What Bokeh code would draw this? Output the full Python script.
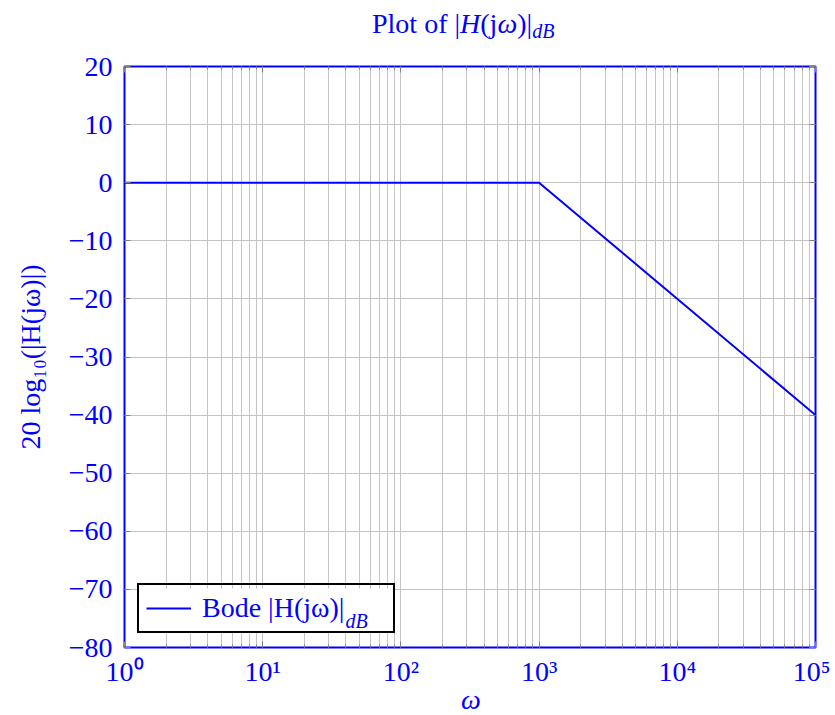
from bokeh.plotting import figure
from bokeh.models import (Range1d, FixedTicker, Label, Legend, LegendItem,
                          Div, LogAxis, LinearAxis, BoxAnnotation)
from bokeh.layouts import column
from bokeh.embed import file_html
from bokeh.resources import INLINE

# ---- data ----
omega = [1, 1000, 100000]
mag_db = [0, 0, -40]
legend_label = "Bode |H(jω)|"
x_ticks = [1, 10, 100, 1000, 10000, 100000]
x_tick_labels = ["10⁰", "10¹", "10²", "10³", "10⁴", "10⁵"]
x_minor = [m * d for d in [1, 10, 100, 1000, 10000] for m in range(2, 10)]
y_ticks = [-80, -70, -60, -50, -40, -30, -20, -10, 0, 10, 20]
y_tick_labels = ["−80", "−70", "−60", "−50", "−40", "−30", "−20", "−10", "0", "10", "20"]

FONT = "Liberation Serif"
BLUE = "#0000ff"
GRID = "#c4c4c4"
TICK = "#808080"
FS = "28px"

title_div = Div(
    text=("<div style=\"font-family:'Liberation Serif';font-size:28px;line-height:28px;"
          "color:#0000ff;white-space:nowrap;padding-top:10px;padding-left:372px\">"
          "Plot of |<i>H</i>(j<i>ω</i>)|"
          "<span style=\"font-size:20px;line-height:20px;font-style:italic;"
          "vertical-align:-5px\">dB</span></div>"),
    width=830, height=50, margin=0)

xlabel_div = Div(
    text=("<div style=\"font-family:'Liberation Serif';font-size:28px;line-height:22px;"
          "color:#0000ff;white-space:nowrap;padding-left:461px;font-style:italic\">ω</div>"),
    width=830, height=24, margin=0)

p = figure(width=830, height=639, x_axis_type="log",
           x_range=Range1d(1, 100000), y_range=Range1d(-80, 20),
           output_backend="svg", toolbar_location=None, title=None,
           min_border_left=124, min_border_right=15,
           min_border_top=16, min_border_bottom=42, margin=0)

p.outline_line_color = BLUE
p.outline_line_width = 2
p.outline_line_alpha = 1.0

bottom_axis = p.below[0]
left_axis = p.left[0]

xticker = FixedTicker(ticks=x_ticks, minor_ticks=x_minor)
yticker = FixedTicker(ticks=y_ticks)
bottom_axis.ticker = xticker
bottom_axis.major_label_overrides = {t: l for t, l in zip(x_ticks, x_tick_labels)}
left_axis.ticker = yticker
left_axis.major_label_overrides = {t: l for t, l in zip(y_ticks, y_tick_labels)}

# tick marks only on the top and right edges
top_axis = LogAxis(ticker=xticker, major_label_standoff=0,
                   major_label_overrides={t: "" for t in x_ticks})
right_axis = LinearAxis(ticker=yticker, major_label_standoff=0,
                        major_label_overrides={t: "" for t in y_ticks})
p.add_layout(top_axis, "above")
p.add_layout(right_axis, "right")

for ax in (bottom_axis, left_axis, top_axis, right_axis):
    ax.axis_line_color = None
    ax.major_tick_in = 6
    ax.major_tick_out = 0
    ax.minor_tick_in = 3
    ax.minor_tick_out = 0
    ax.major_tick_line_color = TICK
    ax.minor_tick_line_color = TICK
    ax.major_label_text_font = FONT
    ax.major_label_text_color = BLUE
    ax.major_label_text_font_size = FS
    ax.axis_label_text_font = FONT
    ax.axis_label_text_font_size = FS
    ax.axis_label_text_color = BLUE
left_axis.minor_tick_line_color = None
right_axis.minor_tick_line_color = None
bottom_axis.major_label_standoff = 8
left_axis.major_label_standoff = 12
left_axis.axis_label = "20 log₁₀(|H(jω)|)"
left_axis.axis_label_text_font_style = "normal"
left_axis.axis_label_standoff = 20

p.xgrid.grid_line_color = GRID
p.xgrid.minor_grid_line_color = GRID
p.ygrid.grid_line_color = GRID
p.xgrid.grid_line_alpha = 1
p.ygrid.grid_line_alpha = 1

r = p.line(omega, mag_db, line_color=BLUE, line_width=2)

# white backing for the legend (legend itself is transparent so the subscript shows)
p.add_layout(BoxAnnotation(left=14, right=269, bottom=15, top=59,
                           left_units="screen", right_units="screen",
                           bottom_units="screen", top_units="screen",
                           fill_color="white", fill_alpha=1, line_color=None,
                           level="underlay"))

legend = Legend(items=[LegendItem(label=legend_label + "      ", renderers=[r])],
                location=(13, 14), border_line_color="black", border_line_width=2,
                border_line_alpha=1, background_fill_alpha=0,
                label_text_font=FONT, label_text_font_size=FS,
                label_text_color=BLUE, glyph_width=45, glyph_height=20,
                label_standoff=11, padding=7, margin=0, spacing=0)
p.add_layout(legend)

p.add_layout(Label(x=221, y=27, x_units="screen", y_units="screen", text="dB",
                   text_font=FONT, text_font_size="20px", text_font_style="italic",
                   text_color=BLUE, text_baseline="alphabetic"))

layout = column(title_div, p, xlabel_div, spacing=0, margin=0)

open("out.html", "w").write(file_html(layout, INLINE))
